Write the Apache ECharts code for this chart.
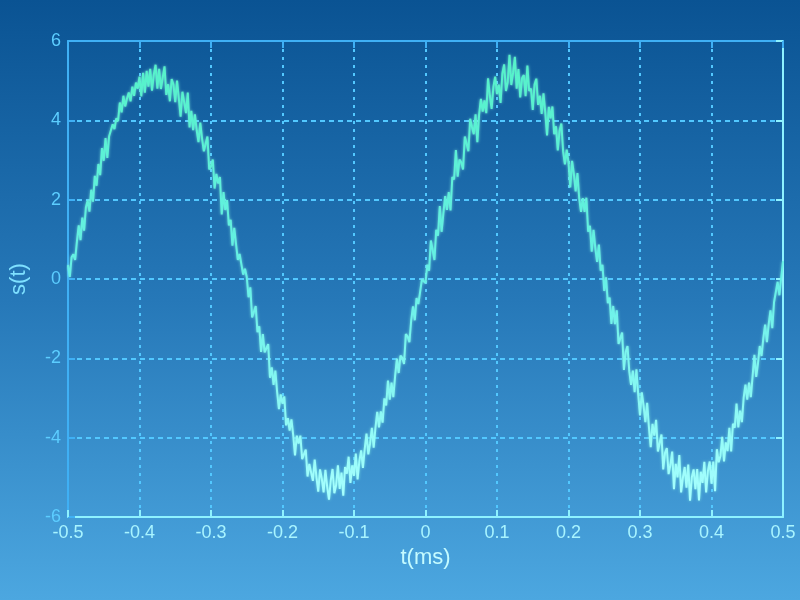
<!DOCTYPE html>
<html>
<head>
<meta charset="utf-8">
<script src="https://cdn.jsdelivr.net/npm/echarts@6/dist/echarts.min.js"></script>
<style>
html,body{margin:0;padding:0;}
#c{width:800px;height:600px;}
</style>
</head>
<body>
<div id="c"></div>
<script>
// sampling of the time axis (ms)
const tStart = -0.5;
const tStep = 0.0025;
// signal s(t), one value per sample
const sValues = [
0.35,0.05,0.55,0.62,0.48,0.95,1.35,0.98,1.55,1.22,1.80,1.98,1.70,2.25,1.95,2.60,2.35,2.90,2.62,3.30,
2.98,3.55,3.05,3.60,3.75,3.90,3.78,4.05,3.98,4.45,4.20,4.62,4.35,4.55,4.70,4.48,4.85,4.62,4.95,4.80,
5.10,4.60,5.20,4.70,5.25,4.85,5.30,4.75,5.15,5.40,4.80,
5.30,4.79,5.08,5.36,4.64,4.91,4.48,5.04,4.90,4.46,5.00,4.55,4.09,4.72,4.46,4.18,4.70,3.82,4.24,3.75,
4.15,3.75,3.45,3.94,3.54,3.22,3.41,3.59,2.76,2.84,3.01,2.28,2.65,2.41,2.57,1.63,2.19,1.74,1.99,1.35,
1.49,0.84,1.29,1.24,0.48,0.63,0.67,0.11,0.26,0.05,
-0.46,-0.21,-0.97,-0.83,-0.68,-1.34,-1.19,-1.84,-1.39,-1.85,-1.89,-1.64,-2.49,-2.23,-2.67,-2.31,-2.85,-3.28,-2.91,-3.14,
-2.96,-3.69,-3.51,-3.82,-3.54,-3.94,-4.45,-3.95,-4.15,-3.95,-4.54,-4.52,-4.30,-4.98,-4.66,-4.62,-5.09,-4.55,-5.00,-5.36,
-4.80,-5.04,-5.38,-4.81,-5.24,-5.56,-5.08,-4.79,-5.40,-5.20,
-4.70,-5.29,-4.88,-5.46,-4.74,-4.91,-4.48,-5.14,-4.70,-4.96,-4.40,-5.05,-4.59,-4.32,-4.76,-4.28,-3.90,-4.42,-4.14,-3.75,
-4.25,-3.75,-3.35,-3.74,-3.34,-3.62,-3.01,-3.19,-2.56,-3.04,-2.61,-2.98,-2.45,-2.01,-2.37,-1.93,-1.99,-2.14,-1.39,-1.45,
-1.59,-1.04,-0.69,-1.04,-0.48,-0.63,-0.67,-0.01,-0.06,-0.10,
0.36,0.21,0.97,0.73,0.48,1.24,1.09,1.84,1.19,1.65,2.09,1.74,2.19,1.73,2.57,2.51,3.25,2.58,3.01,2.94,
2.76,3.59,3.41,3.22,4.04,3.84,3.65,4.15,3.45,4.15,4.54,4.22,4.50,4.18,5.06,4.62,4.29,4.85,5.10,4.66,
4.90,4.44,5.18,5.41,4.74,4.96,5.65,4.89,5.20,5.60,
4.80,5.29,4.58,5.06,5.14,4.61,5.38,4.74,4.80,4.26,4.90,5.05,4.39,4.62,4.16,4.68,4.20,3.62,4.34,4.05,
4.35,3.65,3.85,3.24,3.74,3.92,3.21,2.89,3.26,2.94,2.31,2.98,2.65,2.21,2.67,2.03,1.69,2.04,1.69,2.05,
1.19,1.34,0.69,1.24,0.78,0.43,0.87,0.21,0.36,-0.30,
0.04,-0.61,-0.47,-1.13,-0.68,-1.14,-0.79,-1.64,-1.49,-1.35,-2.29,-1.84,-1.69,-2.33,-2.67,-2.31,-2.85,-2.28,-2.91,-3.44,
-2.86,-3.19,-3.61,-3.12,-3.74,-4.24,-3.65,-3.95,-3.55,-4.35,-4.34,-3.92,-4.80,-4.38,-4.26,-4.92,-4.69,-4.35,-5.30,-4.66,
-5.00,-4.44,-5.38,-5.01,-4.74,-5.26,-4.68,-5.59,-5.00,-4.80,
-5.30,-4.79,-5.58,-4.86,-5.14,-4.61,-5.38,-4.84,-4.60,-5.16,-4.60,-5.35,-4.29,-4.62,-4.46,-3.98,-4.60,-4.12,-4.34,-3.75,
-4.35,-3.65,-3.75,-3.14,-3.74,-3.32,-3.61,-2.99,-2.66,-3.04,-2.61,-2.98,-2.45,-1.91,-2.47,-2.13,-1.69,-1.94,-1.49,-1.15,
-1.59,-1.14,-0.79,-1.24,-0.58,-0.63,-0.07,-0.41,0.04,0.45
];
const xTicks = [-0.5,-0.4,-0.3,-0.2,-0.1,0,0.1,0.2,0.3,0.4,0.5];
const yTicks = [-6,-4,-2,0,2,4,6];
const xName = 't(ms)';
const yName = 's(t)';

const seriesData = sValues.map((v, i) => [+(tStart + i * tStep).toFixed(4), v]);

const chart = echarts.init(document.getElementById('c'), null, {renderer: 'canvas'});
const font = '"Liberation Sans", Arial, sans-serif';
const gridLine = {show: true, lineStyle: {color: '#52c8ff', width: 2, type: [5, 4]}};
const gridLineV = {show: true, lineStyle: {color: '#52c8ff', width: 2, type: [3, 5]}};
const blueEdge = '#3fb0f5';
const cyanEdge = '#8ef2ff';
chart.setOption({
  animation: false,
  backgroundColor: new echarts.graphic.LinearGradient(0, 0, 0, 1, [
    {offset: 0, color: '#0a5393'},
    {offset: 0.5, color: '#2678b8'},
    {offset: 1, color: '#4ca7e0'}
  ]),
  grid: {left: 64, right: 17, top: 41, bottom: 83, containLabel: false},
  xAxis: [{
    type: 'value', min: xTicks[0], max: xTicks[xTicks.length - 1], interval: 0.1,
    name: xName, nameLocation: 'middle', nameGap: 30,
    nameTextStyle: {color: '#c4fbff', fontSize: 22, fontFamily: font},
    axisLine: {show: true, onZero: false, lineStyle: {color: cyanEdge, width: 2}},
    axisTick: {show: true, inside: true, length: 7, lineStyle: {color: cyanEdge, width: 2}},
    axisLabel: {color: '#a8f4ff', fontSize: 18, fontFamily: font, margin: 7,
      formatter: v => (Math.abs(v) < 1e-9 ? '0' : String(+v.toFixed(1)))},
    splitLine: gridLineV
  }, {
    type: 'value', position: 'top', min: xTicks[0], max: xTicks[xTicks.length - 1], interval: 0.1,
    axisLine: {show: true, onZero: false, lineStyle: {color: blueEdge, width: 2}},
    axisTick: {show: true, inside: true, length: 7, lineStyle: {color: blueEdge, width: 2}},
    axisLabel: {show: false}, splitLine: {show: false}
  }],
  yAxis: [{
    type: 'value', min: yTicks[0], max: yTicks[yTicks.length - 1], interval: 2,
    name: yName, nameLocation: 'middle', nameGap: 38, nameRotate: 90,
    nameTextStyle: {color: '#7ee0ff', fontSize: 22, fontFamily: font},
    axisLine: {show: true, onZero: false, lineStyle: {color: blueEdge, width: 2}},
    axisTick: {show: true, inside: true, length: 7, lineStyle: {color: blueEdge, width: 2}},
    axisLabel: {color: '#5ccdff', fontSize: 18, fontFamily: font, margin: 7},
    splitLine: gridLine
  }, {
    type: 'value', position: 'right', min: yTicks[0], max: yTicks[yTicks.length - 1], interval: 2,
    axisLine: {show: true, onZero: false, lineStyle: {color: cyanEdge, width: 2}},
    axisTick: {show: true, inside: true, length: 7, lineStyle: {color: cyanEdge, width: 2}},
    axisLabel: {show: false}, splitLine: {show: false}
  }],
  series: [{
    type: 'line',
    data: seriesData,
    xAxisIndex: 0, yAxisIndex: 0,
    showSymbol: false,
    smooth: false,
    lineStyle: {
      width: 2,
      color: new echarts.graphic.LinearGradient(0, 0, 0, 1, [
        {offset: 0, color: '#55f2c8'},
        {offset: 0.5, color: '#66f0e6'},
        {offset: 1, color: '#a8ffff'}
      ]),
      shadowColor: 'rgba(140,255,230,0.7)',
      shadowBlur: 3
    }
  }]
});
</script>
</body>
</html>
